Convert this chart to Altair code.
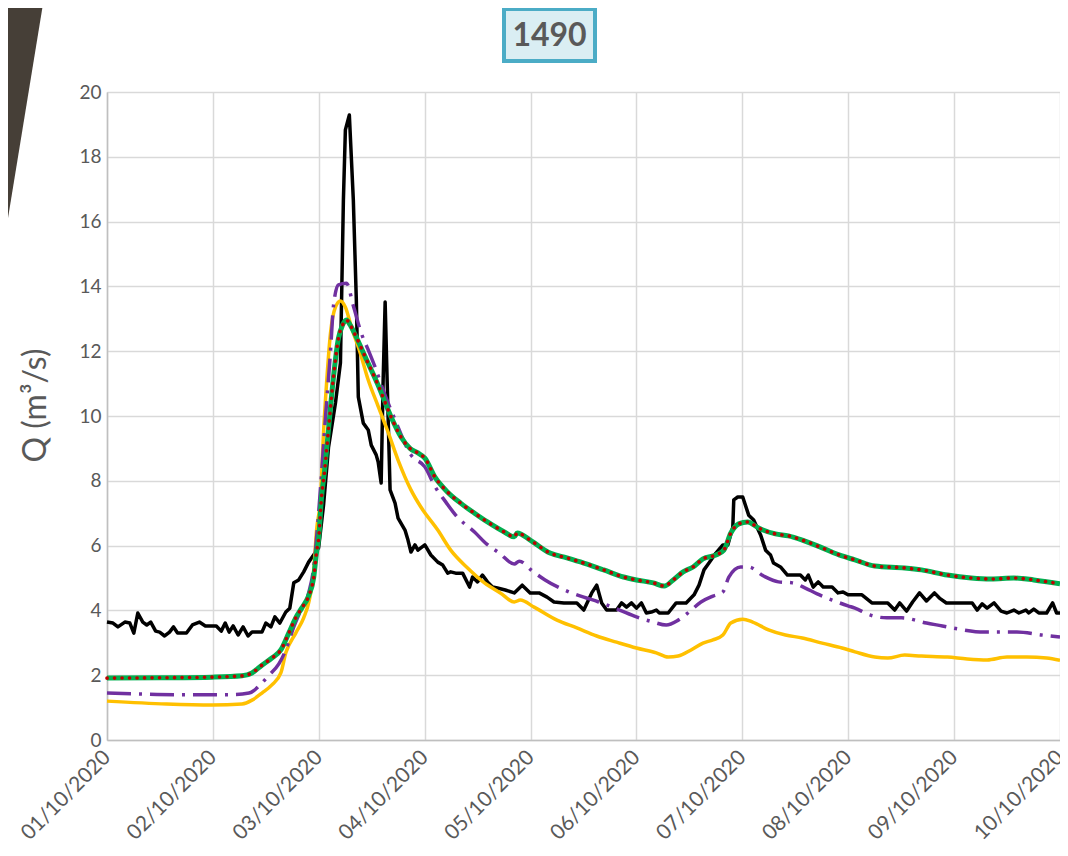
import json
import altair as alt
import pandas as pd

# ---------------- data ----------------
day_labels = ["01/10/2020", "02/10/2020", "03/10/2020", "04/10/2020", "05/10/2020",
              "06/10/2020", "07/10/2020", "08/10/2020", "09/10/2020", "10/10/2020"]
y_ticks = [0, 2, 4, 6, 8, 10, 12, 14, 16, 18, 20]
chart_title = "1490"
y_title = "Q (m³/s)"

# observed discharge (hours since 01/10/2020 00:00)
obs_hours = [0.0, 1.35, 2.48, 4.05, 5.18, 6.08, 6.98, 8.11, 9.01, 9.91, 11.03, 11.93, 13.06, 14.18,
             15.08, 15.99, 18.01, 19.36, 20.94, 22.29, 24.77, 25.89, 26.79, 27.69, 28.59, 29.72,
             30.85, 31.97, 32.87, 35.12, 36.02, 37.15, 38.05, 39.18, 40.53, 41.43, 42.33, 43.45,
             44.58, 45.70, 46.83, 47.96, 49.08, 50.21, 51.78, 52.91, 53.58, 54.03, 54.93, 55.83,
             56.51, 56.96, 58.09, 59.21, 59.89, 61.01, 61.46, 62.14, 62.59, 63.04, 63.49, 64.16,
             65.29, 65.97, 67.54, 68.22, 68.89, 69.80, 70.47, 72.04, 73.40, 74.97, 76.10, 77.22,
             77.90, 79.02, 80.60, 82.18, 82.85, 83.98, 85.10, 86.23, 87.36, 88.48, 90.28, 92.31,
             94.11, 95.91, 97.94, 99.74, 101.31, 103.56, 106.49, 108.07, 109.87, 111.0, 112.12,
             113.25, 115.50, 116.62, 117.75, 118.88, 120.0, 121.13, 122.25, 123.38, 124.50,
             125.18, 127.20, 129.0, 131.26, 133.06, 134.18, 135.31, 136.43, 138.01, 139.59,
             140.71, 141.84, 142.06, 142.96, 144.09, 145.44, 146.57, 148.14, 149.27, 150.39,
             151.07, 152.65, 154.22, 157.15, 158.27, 158.95, 160.07, 161.20, 162.33, 164.35,
             165.70, 166.83, 167.95, 169.53, 171.11, 173.36, 176.96, 178.54, 179.66, 181.24,
             182.59, 184.16, 185.74, 187.54, 188.67, 190.24, 196.10, 197.22, 198.35, 199.47,
             201.05, 202.63, 203.98, 205.55, 206.68, 208.26, 208.93, 210.06, 211.18, 212.98,
             214.33, 215.23, 216.0]
obs_q = [3.64, 3.61, 3.49, 3.64, 3.61, 3.30, 3.92, 3.64, 3.55, 3.64, 3.36, 3.33, 3.21, 3.33,
         3.49, 3.30, 3.30, 3.55, 3.64, 3.52, 3.52, 3.36, 3.61, 3.33, 3.52, 3.24,
         3.49, 3.21, 3.33, 3.33, 3.61, 3.49, 3.80, 3.61, 3.95, 4.07, 4.85, 4.94,
         5.19, 5.49, 5.71, 5.93, 7.25, 9.04, 10.40, 11.64, 16.67, 18.83, 19.29, 16.67,
         13.58, 10.59, 9.78, 9.57, 9.10, 8.80, 8.58, 7.93, 11.11, 13.52, 11.11, 7.72,
         7.31, 6.85, 6.48, 6.17, 5.80, 6.02, 5.86, 6.02, 5.71, 5.49, 5.40, 5.15,
         5.19, 5.15, 5.15, 4.72, 5.03, 4.88, 5.09, 4.88, 4.72, 4.69, 4.63, 4.54,
         4.78, 4.54, 4.54, 4.41, 4.26, 4.23, 4.23, 4.01, 4.54, 4.78, 4.23,
         4.01, 4.01, 4.23, 4.10, 4.23, 4.07, 4.23, 3.92, 3.95, 4.01,
         3.92, 3.92, 4.23, 4.23, 4.48, 4.78, 5.25, 5.46, 5.77, 6.02,
         6.02, 6.57, 7.41, 7.50, 7.50, 6.94, 6.79, 6.33, 5.86, 5.71,
         5.46, 5.34, 5.09, 5.09, 4.94, 5.09, 4.72, 4.88, 4.72, 4.72,
         4.54, 4.57, 4.48, 4.48, 4.48, 4.23, 4.23, 4.01, 4.23, 3.98,
         4.26, 4.54, 4.29, 4.54, 4.38, 4.23, 4.23, 4.01, 4.20, 4.07,
         4.23, 3.98, 3.92, 4.01, 3.92, 4.01, 3.92, 4.04, 3.92, 3.92,
         4.23, 3.92, 3.92]

# simulation A (green with red dots)
simA_hours = [0.0, 11.93, 23.86, 30.62, 32.87, 35.12, 37.37, 39.40, 41.20, 42.78, 44.13, 45.70,
              46.83, 47.50, 47.96, 48.63, 49.31, 50.21, 51.33, 52.46, 53.36, 54.26, 55.16, 56.28,
              58.54, 61.46, 64.39, 66.64, 68.67, 70.47, 72.04, 74.30, 77.22, 80.15, 83.30, 86.23,
              90.06, 92.31, 92.98, 95.91, 100.41, 104.24, 108.07, 112.57, 117.07, 120.0, 123.83,
              126.30, 128.33, 130.58, 132.83, 135.08, 138.01, 139.81, 141.39, 143.19, 145.22,
              147.69, 151.52, 154.45, 157.60, 162.10, 166.60, 169.53, 174.03, 180.79, 184.61,
              190.47, 195.87, 200.37, 205.55, 210.06, 216.0]
simA_q = [1.91, 1.92, 1.94, 1.98, 2.07, 2.31, 2.53, 2.78, 3.30, 3.77, 4.07, 4.45,
          5.0, 5.8, 6.2, 7.5, 8.3, 9.6, 11.2, 12.4, 12.8, 12.96, 12.8, 12.5,
          11.82, 10.95, 9.97, 9.35, 9.0, 8.86, 8.7, 8.12, 7.65, 7.31, 7.0, 6.73,
          6.42, 6.27, 6.39, 6.17, 5.77, 5.62, 5.46, 5.25, 5.03, 4.94, 4.85,
          4.75, 4.94, 5.19, 5.34, 5.59, 5.71, 5.86, 6.39, 6.67, 6.73,
          6.54, 6.36, 6.30, 6.17, 5.93, 5.68, 5.56, 5.37, 5.31, 5.25,
          5.09, 5.0, 4.97, 5.0, 4.94, 4.82]

# simulation B (purple dash-dot)
simB_hours = [0.0, 7.43, 15.76, 28.37, 32.20, 35.12, 36.70, 38.95, 40.53, 42.33, 43.90, 45.70,
              46.83, 47.96, 49.53, 50.66, 51.33, 52.46, 54.26, 55.83, 57.63, 59.21, 60.79, 62.59,
              65.29, 68.89, 72.04, 74.52, 76.77, 79.02, 83.30, 85.78, 88.93, 92.31, 93.43, 96.36,
              99.29, 104.69, 108.07, 111.44, 116.17, 120.0, 123.83, 126.75, 129.46, 131.93,
              134.63, 137.34, 139.59, 140.94, 143.64, 145.44, 148.82, 152.20, 155.35, 158.27,
              160.97, 164.35, 167.95, 169.53, 172.91, 176.73, 180.11, 185.74, 189.34, 192.72,
              198.80, 206.23, 211.86, 216.0]
simB_q = [1.45, 1.42, 1.40, 1.40, 1.45, 1.76, 2.0, 2.35, 2.78, 3.49, 4.0, 4.54,
          5.3, 7.0, 9.97, 12.0, 13.4, 14.05, 14.1, 13.4, 12.56, 12.04, 11.5, 10.8,
          9.88, 8.8, 8.43, 7.78, 7.35, 6.94, 6.42, 6.08, 5.77, 5.43, 5.52, 5.22,
          4.94, 4.57, 4.41, 4.26, 4.01, 3.80, 3.64, 3.55, 3.70, 3.95,
          4.26, 4.44, 4.57, 5.03, 5.34, 5.34, 5.06, 4.88, 4.85, 4.69,
          4.51, 4.32, 4.14, 4.07, 3.86, 3.77, 3.77, 3.61, 3.52, 3.43,
          3.33, 3.33, 3.24, 3.18]

# simulation C (yellow)
simC_hours = [0.0, 13.51, 23.86, 30.62, 32.87, 35.12, 37.37, 39.40, 40.53, 42.78, 44.58, 45.70,
              46.83, 47.50, 48.41, 49.08, 49.76, 50.66, 51.78, 52.91, 54.03, 55.38, 57.41, 59.21,
              61.46, 63.71, 65.97, 68.89, 71.14, 74.97, 77.90, 81.73, 85.55, 89.15, 92.31, 93.66,
              96.81, 101.99, 106.49, 110.99, 115.50, 120.0, 124.50, 127.20, 129.46, 132.38,
              135.08, 137.34, 139.59, 141.39, 144.09, 146.34, 149.94, 153.77, 157.60, 162.10,
              166.60, 169.53, 174.03, 176.96, 180.79, 184.61, 190.47, 194.97, 199.47, 203.98,
              208.48, 212.98, 216.0]
simC_q = [1.20, 1.11, 1.08, 1.11, 1.23, 1.45, 1.70, 2.07, 2.69, 3.30, 3.77, 4.23,
          5.2, 6.48, 7.5, 9.5, 11.0, 12.56, 13.36, 13.55, 13.36, 12.75, 11.94, 11.11,
          10.3, 9.5, 8.64, 7.72, 7.19, 6.48, 5.86, 5.31, 4.85, 4.54, 4.26, 4.32,
          4.10, 3.70, 3.46, 3.21, 3.02, 2.84, 2.69, 2.56, 2.59, 2.78,
          2.99, 3.09, 3.24, 3.61, 3.73, 3.64, 3.40, 3.24, 3.15, 2.99,
          2.84, 2.72, 2.56, 2.53, 2.62, 2.59, 2.56, 2.50, 2.47, 2.56,
          2.56, 2.53, 2.46]

# ---------------- chart ----------------
FONT = "Lato"
GREY = "#595959"

obs_df = pd.DataFrame({"hour": obs_hours, "q": obs_q})
a_df = pd.DataFrame({"hour": simA_hours, "q": simA_q})
b_df = pd.DataFrame({"hour": simB_hours, "q": simB_q})
c_df = pd.DataFrame({"hour": simC_hours, "q": simC_q})
one = pd.DataFrame({"k": [0]})

label_expr = json.dumps(day_labels) + "[round(datum.value / 24)]"

X = alt.X("hour:Q",
          scale=alt.Scale(domain=[0, 216], nice=False, zero=False),
          axis=alt.Axis(values=[i * 24 for i in range(len(day_labels))],
                        labelExpr=label_expr, title=None, labelAngle=315,
                        labelAlign="right", labelBaseline="middle", labelPadding=14,
                        labelFontSize=21, labelColor=GREY, labelFont=FONT,
                        ticks=False, grid=True, gridColor="#D9D9D9", gridWidth=1.5,
                        domainColor="#BFBFBF", domainWidth=1.5, labelOverlap=False,
                        labelFlush=False))
Y = alt.Y("q:Q",
          scale=alt.Scale(domain=[0, 20], nice=False),
          axis=alt.Axis(values=y_ticks, title=y_title, labelFontSize=19, labelColor=GREY,
                        labelFont=FONT, labelPadding=6, ticks=False, grid=True,
                        gridColor="#D9D9D9", gridWidth=1.5, domainColor="#BFBFBF",
                        domainWidth=1.5, titleFontSize=32, titleColor=GREY, titleFont=FONT,
                        titleFontWeight="normal", titleAngle=270, titleX=-72, titleY=313,
                        titleAlign="center", titleBaseline="middle"))

obs = alt.Chart(obs_df).mark_line(color="#000000", strokeWidth=3.5, strokeJoin="round").encode(x=X, y=Y)
simA = alt.Chart(a_df).mark_line(color="#00B050", strokeWidth=5, interpolate="monotone").encode(x=X, y=Y)
simA_dots = alt.Chart(a_df).mark_line(color="#C00000", strokeWidth=3.6, strokeDash=[0.1, 7.4],
                                      strokeCap="round", interpolate="monotone").encode(x=X, y=Y)
simB = alt.Chart(b_df).mark_line(color="#7030A0", strokeWidth=3.5, strokeDash=[24, 8, 3, 8],
                                 interpolate="monotone").encode(x=X, y=Y)
simC = alt.Chart(c_df).mark_line(color="#FFC000", strokeWidth=3.5, interpolate="monotone").encode(x=X, y=Y)

# decorative slanted band at top-left
band = alt.Chart(one).mark_point(
    shape="M -0.1 -0.04 L 0.152 -0.04 L 0 0.89 L -0.1 0.89 Z",
    filled=True, size=360000, color="#463F37", opacity=1, strokeWidth=0
).encode(x=alt.value(-107), y=alt.value(-92))

# title box
box = alt.Chart(one).mark_rect(fill="#DAEEF3", stroke="#4BACC6", strokeWidth=4).encode(
    x=alt.value(397), x2=alt.value(488), y=alt.value(-83), y2=alt.value(-31))
title_txt = alt.Chart(one).mark_text(text=chart_title, font=FONT, fontSize=32, fontWeight="bold",
                                     color=GREY, align="center", baseline="middle").encode(
    x=alt.value(442.5), y=alt.value(-56))

chart = alt.layer(band, box, title_txt, obs, simC, simB, simA, simA_dots).properties(
    width=953, height=648,
    padding={"left": 99, "top": 84, "right": 0, "bottom": 105},
    autosize=alt.AutoSizeParams(type="none"),
).configure_view(stroke=None).configure(background="white")

chart.save("out.html", embed_options={"renderer": "svg", "actions": False})
